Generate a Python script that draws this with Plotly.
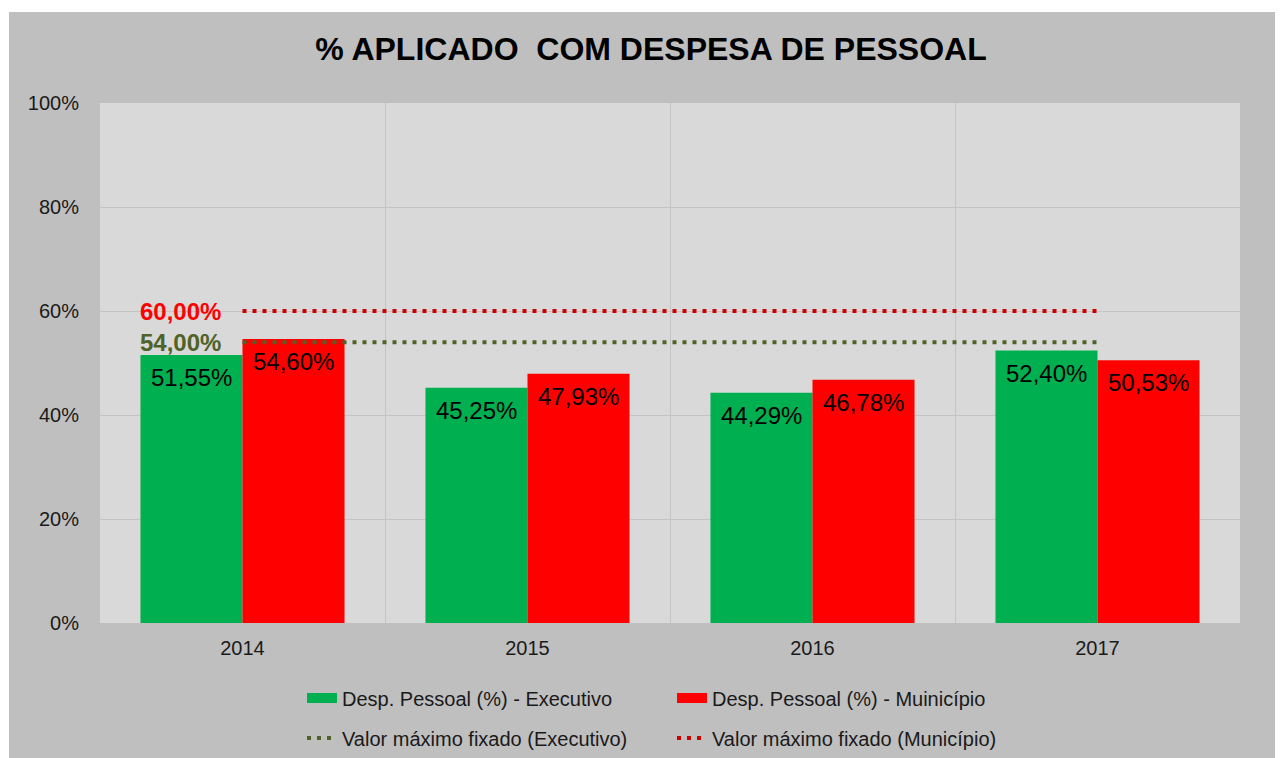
import plotly.graph_objects as go

years = ["2014", "2015", "2016", "2017"]
executivo = [51.55, 45.25, 44.29, 52.40]
municipio = [54.60, 47.93, 46.78, 50.53]
limite_executivo = [54.0, 54.0, 54.0, 54.0]
limite_municipio = [60.0, 60.0, 60.0, 60.0]

name_exec = "Desp. Pessoal (%) - Executivo"
name_mun = "Desp. Pessoal (%) - Muinicípio"
name_lim_exec = "Valor máximo fixado (Executivo)"
name_lim_mun = "Valor máximo fixado (Município)"

# page body has an 8px margin, so the figure is sized to the visible area
W, H = 1275, 750
ML, MR, MT, MB = 92, 43, 95, 135
BARGAP = 0.284

def fmt(v):
    return f"{v:.2f}".replace(".", ",") + "%"

FONT = "Liberation Sans, Arial, sans-serif"
TXT = "#1a1a1a"
GREEN, RED = "#00b050", "#ff0000"
DOT_GREEN, DOT_RED = "#4f6228", "#cc0000"

fig = go.Figure()
fig.add_trace(go.Bar(x=years, y=executivo, name=name_exec, marker_color=GREEN,
                     marker_line_width=0, legendgroup="exec", showlegend=False))
fig.add_trace(go.Bar(x=years, y=municipio, name=name_mun, marker_color=RED,
                     marker_line_width=0, legendgroup="mun", showlegend=False))
# legend entries for the bars drawn as wide rectangles
fig.add_trace(go.Scatter(x=[None], y=[None], name=name_exec, mode="lines", legendgroup="exec",
                         line=dict(color=GREEN, width=11), legend="legend", hoverinfo="skip"))
fig.add_trace(go.Scatter(x=[None], y=[None], name=name_mun, mode="lines", legendgroup="mun",
                         line=dict(color=RED, width=11), legend="legend", hoverinfo="skip"))
fig.add_trace(go.Scatter(x=years, y=limite_executivo, name=name_lim_exec, mode="lines",
                         line=dict(color=DOT_GREEN, width=4, dash="4px,6px"), legend="legend2"))
fig.add_trace(go.Scatter(x=years, y=limite_municipio, name=name_lim_mun, mode="lines",
                         line=dict(color=DOT_RED, width=4, dash="4px,6px"), legend="legend2"))

plot_w = W - ML - MR
plot_h = H - MT - MB
cat_w = plot_w / len(years)
bar_w = cat_w * (1 - BARGAP) / 2

annotations = []
for series, sign in ((executivo, -1), (municipio, 1)):
    for i, v in enumerate(series):
        annotations.append(dict(x=i, y=v, xref="x", yref="y", text=fmt(v), showarrow=False,
                                xshift=sign * bar_w / 2, yshift=-7, yanchor="top", xanchor="center",
                                font=dict(family=FONT, size=24, color="#000000")))
annotations.append(dict(x=0, y=limite_municipio[0], xref="x", yref="y", text=fmt(limite_municipio[0]),
                        showarrow=False, xanchor="right", yanchor="middle", xshift=-20,
                        font=dict(family=FONT, size=24, color="#ff0000", weight="bold")))
annotations.append(dict(x=0, y=limite_executivo[0], xref="x", yref="y", text=fmt(limite_executivo[0]),
                        showarrow=False, xanchor="right", yanchor="middle", xshift=-20,
                        font=dict(family=FONT, size=24, color=DOT_GREEN, weight="bold")))

# thin white strips at top/left outside the gray chart box
shapes = [
    dict(type="rect", xref="paper", yref="paper", x0=-0.3, x1=(1 - ML) / plot_w, y0=-0.5, y1=1.5,
         fillcolor="white", line_width=0, layer="above"),
    dict(type="rect", xref="paper", yref="paper", x0=-0.3, x1=1.2, y0=1 + (MT - 4) / plot_h, y1=1.5,
         fillcolor="white", line_width=0, layer="above"),
]

legend_x = (294 - ML) / plot_w

fig.update_layout(
    width=W, height=H,
    margin=dict(l=ML, r=MR, t=MT, b=MB, autoexpand=False),
    paper_bgcolor="#bfbfbf",
    plot_bgcolor="#d9d9d9",
    barmode="group", bargap=BARGAP, bargroupgap=0,
    title=dict(text="<b>% APLICADO  COM DESPESA DE PESSOAL</b>", x=643 / W, xanchor="center",
               y=1 - 41 / H, yanchor="middle", yref="container",
               font=dict(family=FONT, size=32, color="#000000")),
    xaxis=dict(type="category", tickson="boundaries", showgrid=True, gridcolor="#c4c4c4", gridwidth=1,
               ticks="", showline=False, zeroline=False, automargin=False,
               tickfont=dict(family=FONT, size=20, color=TXT), ticklabelstandoff=11,
               range=[-0.5, 3.5]),
    yaxis=dict(range=[0, 100], dtick=20, ticksuffix="%", showgrid=True, gridcolor="#c4c4c4",
               gridwidth=1, zeroline=False, showline=False, ticks="", automargin=False,
               tickfont=dict(family=FONT, size=20, color=TXT), ticklabelstandoff=20),
    legend=dict(orientation="h", x=legend_x, xanchor="left", y=-75 / plot_h, yanchor="middle",
                entrywidth=325, entrywidthmode="pixels", bgcolor="rgba(0,0,0,0)",
                font=dict(family=FONT, size=20, color=TXT)),
    legend2=dict(orientation="h", x=legend_x, xanchor="left", y=-115 / plot_h, yanchor="middle",
                 entrywidth=325, entrywidthmode="pixels", bgcolor="rgba(0,0,0,0)",
                 font=dict(family=FONT, size=20, color=TXT)),
    annotations=annotations,
    shapes=shapes,
    showlegend=True,
)

fig.write_html("out.html")
